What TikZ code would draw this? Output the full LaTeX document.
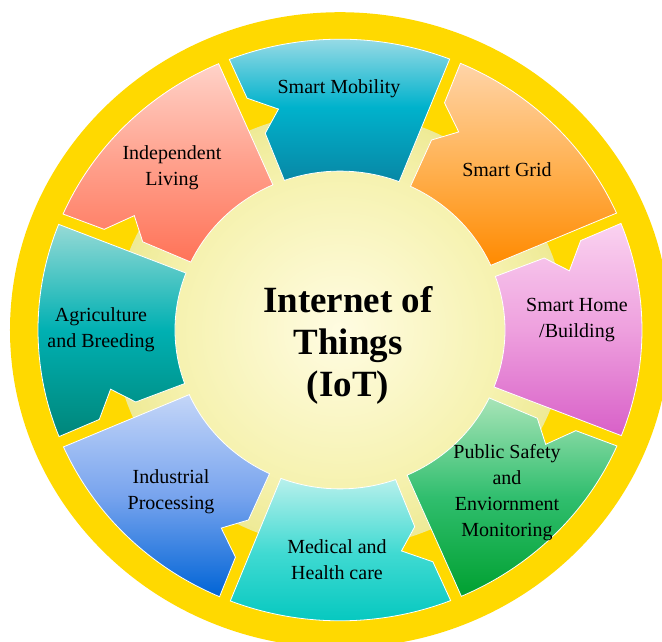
\documentclass[tikz,border=0pt]{standalone}
\usepackage{fontspec}
\setmainfont{Liberation Serif}

\definecolor{RingGold}{RGB}{255, 217, 0}
\definecolor{HubCenter}{RGB}{255, 252, 226}
\definecolor{HubMid}{RGB}{246, 242, 176}
\definecolor{HubEdge}{RGB}{238, 234, 150}
% sector colours: top / middle / bottom of each vertical gradient
\definecolor{MobilityTop}{RGB}{165, 222, 232}
\definecolor{MobilityMid}{RGB}{0, 178, 204}
\definecolor{MobilityBot}{RGB}{8, 135, 165}
\definecolor{GridTop}{RGB}{255, 212, 168}
\definecolor{GridMid}{RGB}{255, 178, 84}
\definecolor{GridBot}{RGB}{255, 138, 0}
\definecolor{HomeTop}{RGB}{250, 210, 240}
\definecolor{HomeMid}{RGB}{238, 160, 222}
\definecolor{HomeBot}{RGB}{216, 96, 200}
\definecolor{SafetyTop}{RGB}{168, 228, 184}
\definecolor{SafetyMid}{RGB}{48, 190, 110}
\definecolor{SafetyBot}{RGB}{0, 160, 48}
\definecolor{MedicalTop}{RGB}{184, 240, 236}
\definecolor{MedicalMid}{RGB}{64, 218, 210}
\definecolor{MedicalBot}{RGB}{0, 198, 190}
\definecolor{IndustryTop}{RGB}{196, 214, 248}
\definecolor{IndustryMid}{RGB}{120, 164, 238}
\definecolor{IndustryBot}{RGB}{0, 100, 214}
\definecolor{AgriTop}{RGB}{150, 218, 214}
\definecolor{AgriMid}{RGB}{0, 176, 178}
\definecolor{AgriBot}{RGB}{0, 134, 122}
\definecolor{LivingTop}{RGB}{255, 210, 200}
\definecolor{LivingMid}{RGB}{255, 160, 140}
\definecolor{LivingBot}{RGB}{255, 115, 88}

% soft glow for the middle disc
\pgfdeclareradialshading{hubglow}{\pgfpointorigin}{color(0bp)=(HubCenter); color(18bp)=(HubMid); color(25bp)=(HubEdge); color(50bp)=(HubEdge)}

\begin{document}
\begin{tikzpicture}[x=1pt, y=1pt,
            petal/.style={draw=white, line width=0.8pt},
            topic/.style={align=center, font=\fontsize{20}{26}\selectfont},
            hubtext/.style={align=center, font=\fontsize{37}{42}\selectfont\bfseries},
        ]
            \useasboundingbox (-340,-312) rectangle (322,330);
            \fill[white] (-340,-312) rectangle (322,330);
            \begin{scope}[yscale=0.963]
                \fill[RingGold] (0,0) circle[radius=330];
                \shade[shading=hubglow] (0,0) circle[radius=226];
                % eight arrow-like sectors, notch on the counter-clockwise side
                \foreach \c/\col in {90/Mobility, 45/Grid, 0/Home, -45/Safety, -90/Medical, -135/Industry, 180/Agri, 135/Living}
                    \path[petal, top color=\col Top, bottom color=\col Bot, middle color=\col Mid]
                        ({\c-21}:165) -- ({\c-21.3}:302)
                        arc[start angle=\c-21.3, end angle=\c+21.5, radius=302]
                        -- ({\c+21.1}:258) -- ({\c+15}:237.5) -- ({\c+20.1}:217.5)
                        -- ({\c+19.7}:165)
                        arc[start angle=\c+19.7, end angle=\c-21, radius=165] -- cycle;
            \end{scope}
            \node[topic] (mobility) at (-1,241) {Smart Mobility};
            \node[topic] (grid) at (167,160) {Smart Grid};
            \node[topic] (home) at (237,10) {Smart Home\\/Building};
            \node[topic] (safety) at (167,-163) {Public Safety\\and\\Enviornment\\Monitoring};
            \node[topic] (medical) at (-3,-230) {Medical and\\Health care};
            \node[topic] (industry) at (-169,-162) {Industrial\\Processing};
            \node[topic] (agri) at (-239,0) {Agriculture\\and Breeding};
            \node[topic] (living) at (-168,162) {Independent\\Living};
            \node[hubtext] (iot) at (8,-15) {Internet of\\Things\\(IoT)};
        \end{tikzpicture}
\end{document}
